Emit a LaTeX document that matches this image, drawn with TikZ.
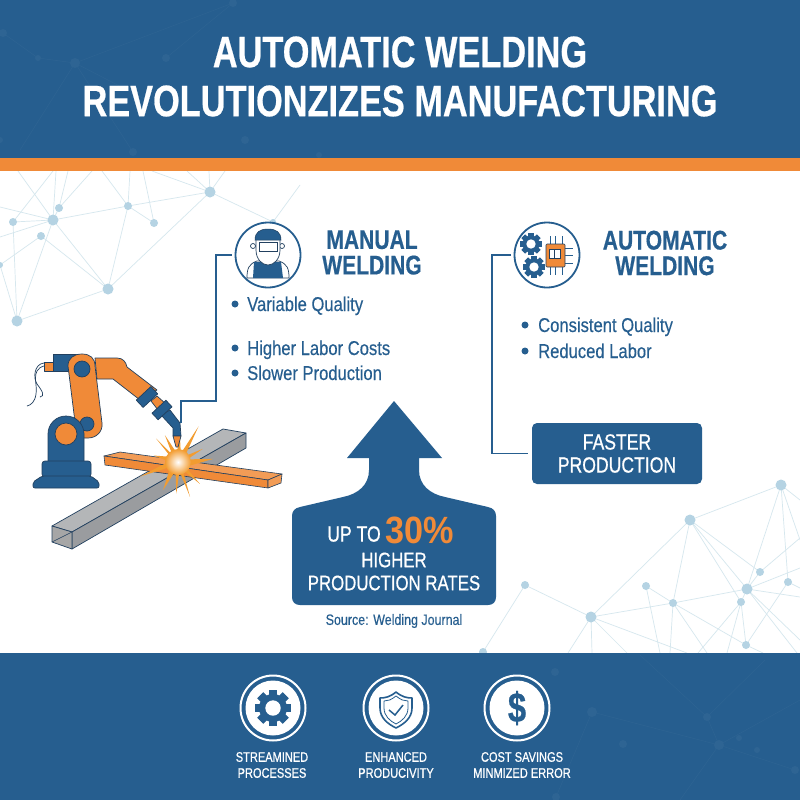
\documentclass[tikz,border=0pt]{standalone}
\usepackage{fontspec}
\setmainfont{Liberation Sans}[FakeStretch=0.78]
\newfontfamily\boldface{Liberation Sans Bold}[FakeStretch=0.78,FakeBold=0.5]
\newfontfamily\rateface{Liberation Sans Bold}[FakeStretch=0.90]
\newfontfamily\plainface{Liberation Sans}[FakeStretch=0.83,FakeBold=0.3]
\newfontfamily\whiteface{Liberation Sans}[FakeStretch=0.80,FakeBold=0.7]
\usetikzlibrary{calc,positioning}
\definecolor{deepblue}{HTML}{265E8F}
\definecolor{weldorange}{HTML}{F08A38}
\definecolor{netblue}{HTML}{B5D3E3}
\definecolor{netline}{HTML}{D6E7EE}
\definecolor{fadeblue}{HTML}{2E6493}
\definecolor{outline}{HTML}{22405F}
\definecolor{steel}{HTML}{B4B6B8}
\definecolor{steeldark}{HTML}{8F9194}
\tikzset{
	titletext/.style={text=white,font=\boldface\fontsize{44}{44}\selectfont,inner sep=0pt},
	headtext/.style={text=deepblue,align=center,font=\boldface\fontsize{27}{25.5}\selectfont,inner sep=0pt},
	itemtext/.style={text=deepblue,anchor=base west,font=\plainface\fontsize{20}{20}\selectfont,inner sep=0pt},
	itemdot/.style={circle,fill=deepblue,inner sep=0pt,minimum size=7pt},
	whitetext/.style={text=white,font=\whiteface\fontsize{22}{22}\selectfont,inner sep=0pt},
	arrowtext/.style={text=white,font=\whiteface\fontsize{21}{21}\selectfont,inner sep=0pt},
	foottext/.style={text=white,font=\whiteface\fontsize{13.8}{14}\selectfont,inner sep=0pt},
	iconring/.style={circle,draw=deepblue,line width=1.8pt,fill=white,minimum size=65pt,inner sep=0pt},
	footring/.style={circle,draw=white,line width=2pt,minimum size=65pt,inner sep=0pt},
	footdisc/.style={circle,fill=white,minimum size=55pt,inner sep=0pt},
	linkline/.style={draw=deepblue,line width=1.2pt},
	robotpart/.style={draw=outline,line width=0.7pt,line join=round},
}
% small gear: centre x, centre y, radius, colour, hole colour
\newcommand{\gearmark}[5]{
	\begin{scope}[shift={(#1,#2)}]
		\foreach \tooth in {0,45,...,315}
			\fill[#4,rotate=\tooth] ({-0.3*#3},{-1.28*#3}) rectangle ({0.3*#3},{1.28*#3});
		\fill[#4] (0,0) circle ({#3});
		\fill[#5] (0,0) circle ({0.55*#3});
	\end{scope}
}
\begin{document}
\begin{tikzpicture}[x=1pt,y=-1pt]
	\useasboundingbox (0,0) rectangle (800,800);
	\fill[white] (0,0) rectangle (800,800);

	% network behind the white part
	\foreach \xA/\yA/\xB/\yB in {
		53/220/108/289,53/220/128/206,53/220/17/321,53/220/59/208,41/236/108/289,128/206/108/289,
		210/192/108/289,210/192/128/206,128/206/154/223,210/192/273/222,108/289/17/321,13/222/17/321,
		41/236/0/265,0/265/17/321,53/220/18/171,53/220/56/171,59/208/92/171,59/208/68/171,
		128/206/102/171,128/206/130/171,154/223/143/171,210/192/152/171,210/192/187/171,210/192/209/171,
		210/192/225/171,273/222/300/185,13/222/53/171,53/220/0/207,53/220/0/237,13/222/53/220,
		781/485/690/520,781/485/747/589,781/485/788/582,781/485/800/540,781/485/800/500,690/520/760/572,
		690/520/747/589,690/520/741/602,690/520/673/603,690/520/591/617,591/617/673/603,673/603/747/589,
		760/572/747/589,760/572/800/538,747/589/800/568,747/589/800/597,747/589/741/602,741/602/746/645,
		788/582/746/645,591/617/525/585,525/585/483/652,646/586/673/603,646/586/660/653,673/603/670/653,
		673/603/707/653,673/603/746/645,591/617/568/653,591/617/592/653,591/617/627/653,591/617/687/653,
		741/602/698/653,741/602/727/653,747/589/797/653,747/589/800/640,746/645/763/653,788/582/800/588}
		\draw[netline,line width=0.7pt] (\xA,\yA) -- (\xB,\yB);
	\foreach \xN/\yN/\rN in {210/192/5.5,128/206/4,154/223/4,59/208/4,53/220/5.5,13/222/4,41/236/4,108/289/5.5,17/321/5.5,0/265/3,273/222/3,
		781/485/5.5,690/520/5.5,760/572/4,747/589/5.5,788/582/4,741/602/4,673/603/4,646/586/4,525/585/4,591/617/5.5,746/645/4,483/652/4}
		\fill[netblue] (\xN,\yN) circle (\rN);

	% bands
	\fill[deepblue] (0,0) rectangle (800,158);
	\fill[weldorange] (0,158) rectangle (800,171);
	\fill[deepblue] (0,653) rectangle (800,800);
	\foreach \xA/\yA/\xB/\yB in {75/63/38/58,75/63/166/110,75/63/20/150,38/58/3/33,75/63/233/3,75/63/133/152,166/58/233/3,
		592/712/719/745,707/717/719/745,707/717/640/655,719/745/795/770,719/745/800/700,719/745/680/800,707/717/765/660,592/712/556/797}
		\draw[fadeblue,line width=0.5pt] (\xA,\yA) -- (\xB,\yB);
	\foreach \xN/\yN/\rN in {233/3/4,3/33/4,38/58/3,75/63/5,166/58/4,245/140/4,133/152/4,319/155/3,0/140/3,
		555/672/4,592/712/5,707/717/4,623/744/4,719/745/5,757/750/3,556/797/4,795/770/4,739/738/3}
		\fill[fadeblue] (\xN,\yN) circle (\rN);

	\node[titletext] (titleA) at (400,52) {AUTOMATIC WELDING};
	\node[titletext] (titleB) at (400,101) {REVOLUTIONZIZES MANUFACTURING};

	% beam and bar
	\fill[steel,draw=outline,line width=0.7pt,line join=round] (52,526) -- (223,429) -- (246,433) -- (72,532) -- cycle;
	\fill[steeldark!70!steel,draw=outline,line width=0.7pt,line join=round] (72,532) -- (246,433) -- (246,448) -- (72,549) -- cycle;
	\fill[gray!70,draw=outline,line width=0.7pt,line join=round] (52,526) -- (72,532) -- (72,549) -- (52,542) -- cycle;
	\draw[outline,line width=0.5pt] (52,542) -- (72,532);
	\fill[weldorange!85!white,draw=outline,line width=0.6pt,line join=round] (104,456) -- (120,452) -- (282,474) -- (268,480) -- cycle;
	\fill[weldorange,draw=outline,line width=0.6pt,line join=round] (104,456) -- (268,480) -- (268,488) -- (105,465) -- cycle;
	\fill[weldorange!85!white,draw=outline,line width=0.6pt,line join=round] (268,480) -- (282,474) -- (281,483) -- (268,488) -- cycle;

	% spark
	\begin{scope}[shift={(178,462)},y=1pt]
		\fill[weldorange!85!yellow] (14:9)
		\foreach \ang/\len in {28/28,60/41,86/27,116/30,133/32,165/25,201/41,242/32,267/32,289/37,315/31,365/35}
		{
			-- (\ang:\len) -- (\ang+12:9)
		} -- cycle;
		\shade[inner color=white,outer color=weldorange!85!yellow] (0,0) circle (13);
	\end{scope}

	% robot
	\draw[outline,line width=0.7pt] (44,363) .. controls (34,364) and (33,378) .. (37,384) .. controls (43,392) and (45,396) .. (40,397);
	\draw[outline,line width=0.7pt] (44,366) .. controls (30,370) and (38,385) .. (36,394) .. controls (35,402) and (31,405) .. (27,406);
	\fill[weldorange,robotpart] (44,362) rectangle (54,371);
	\fill[deepblue,robotpart] (53,354) -- (82,354) -- (82,371) -- (53,371) -- cycle;
	\fill[weldorange,robotpart] (95,358) -- (117,358) .. controls (123,358) and (126,362) .. (127,367) -- (157,390) -- (140,400) -- (113,379) -- (97,379) -- cycle;
	\fill[weldorange,robotpart] (157,396) -- (151,401) -- (158,410) -- (166,404) -- cycle;
	\fill[deepblue,robotpart] (161,415) -- (170,410) -- (180,423) -- (181,436) -- (173,436) -- (173,428) -- cycle;
	\fill[weldorange,robotpart] (173,436) -- (181,436) -- (178,447) -- (176,447) -- cycle;
	\fill[deepblue,robotpart,rotate around={43:(147,397)}] (137,392) rectangle (157,402);
	\fill[deepblue,robotpart,rotate around={43:(162,410)}] (152.5,405.5) rectangle (171.5,414.5);
	\fill[weldorange,robotpart] (68,366) .. controls (68,358) and (74,354) .. (82,354) .. controls (90,354) and (95,358) .. (95,366) -- (102,423) .. controls (103,432) and (96,438) .. (88,438) -- (77,438) -- cycle;
	\fill[deepblue,robotpart] (82,369) circle (8);
	\fill[deepblue,robotpart] (87,424) circle (7);
	\fill[deepblue,robotpart] (48,462) -- (48,434) .. controls (48,424) and (56,416) .. (66,416) .. controls (76,416) and (84,424) .. (84,434) -- (84,462) -- cycle;
	\fill[weldorange,robotpart] (66,434) circle (11);
	\fill[deepblue,robotpart,rounded corners=3pt] (42,477) -- (42,461) -- (91,461) -- (91,477) -- cycle;
	\fill[deepblue,robotpart,rounded corners=2pt] (33,488) -- (33,482) -- (42,476) -- (91,476) -- (99,482) -- (99,488) -- cycle;
	\coordinate (torchtip) at (181,423);

	% manual column
	\node[iconring] (manualicon) at (268,255) {};
	\fill[white,draw=outline,line width=0.7pt] (253,246) circle (2.5) (282,246) circle (2.5);
	\fill[white,draw=outline,line width=0.7pt] (247,278) .. controls (247,268) and (249,264) .. (257,261) -- (279,261) .. controls (287,264) and (289,268) .. (289,278) -- cycle;
	\fill[deepblue] (254,262) -- (281,262) -- (283,278) -- (253,278) -- cycle;
	\fill[white,draw=outline,line width=0.7pt] (256,238) -- (280,238) -- (280,250) .. controls (280,259) and (274,265) .. (268,265) .. controls (262,265) and (256,259) .. (256,250) -- cycle;
	\fill[deepblue,draw=outline,line width=0.5pt] (255,240) .. controls (255,232) and (260,229) .. (268,229) .. controls (276,229) and (281,232) .. (281,240) -- cycle;
	\fill[white,draw=outline,line width=0.8pt] (259,242) rectangle (277,251);
	\node[headtext] (manualhead) at (372,252.5) {MANUAL\\WELDING};
	\foreach \nm/\yy/\tx in {itemA/311/Variable Quality,itemB/355/Higher Labor Costs,itemC/380/Slower Production}
	{
		\node[itemdot] (\nm dot) at (235,\yy-7) {};
		\node[itemtext] (\nm) at (247,\yy) {\tx};
	}
	\coordinate (manualbend) at (216,401);
	\draw[linkline,shorten <=3pt] (manualicon.west) -| (manualbend) -| (torchtip);

	% automatic column
	\node[iconring] (autoicon) at (547,255) {};
	\foreach \px in {550,555,562}
		\draw[deepblue,line width=0.7pt] (\px,236) -- (\px,244) (\px,267) -- (\px,275);
	\foreach \py in {248,255,263}
		\draw[deepblue,line width=0.7pt] (565,\py) -- (573,\py);
	\fill[weldorange,draw=outline,line width=0.6pt,rounded corners=1pt] (546,244) rectangle (565,267);
	\fill[white,draw=outline,line width=0.5pt] (549,249) rectangle (560,258);
	\draw[outline,line width=0.5pt] (554,249) -- (554,258);
	\gearmark{531}{244}{8.5}{deepblue}{white}
	\gearmark{534}{267}{8.5}{deepblue}{white}
	\node[headtext] (autohead) at (665,253) {AUTOMATIC\\WELDING};
	\foreach \nm/\yy/\tx in {itemD/332/Consistent Quality,itemE/358/Reduced Labor}
	{
		\node[itemdot] (\nm dot) at (525,\yy-7) {};
		\node[itemtext] (\nm) at (538,\yy) {\tx};
	}
	\node[fill=deepblue,rounded corners=5pt,minimum width=170pt,minimum height=61pt,inner sep=0pt] (fasterbox) at (617,453.5) {};
	\node[whitetext] (fasterA) at (617,442) {FASTER};
	\node[whitetext] (fasterB) at (617,465) {PRODUCTION};
	\coordinate (autobend) at (492,453.5);
	\draw[linkline,shorten <=3pt,shorten >=4pt] (autoicon.west) -| (autobend) -- (fasterbox.west);

	% big arrow
	\fill[deepblue] (394,401) -- (442,458) -- (419,458) -- (419,470) .. controls (419,485) and (430,494) .. (445,497) -- (488,507) .. controls (493,508) and (496,511) .. (496,516) -- (496,597) .. controls (496,602) and (493,605) .. (488,605) -- (300,605) .. controls (295,605) and (292,602) .. (292,597) -- (292,516) .. controls (292,511) and (295,508) .. (300,507) -- (343,497) .. controls (358,494) and (369,485) .. (369,470) -- (369,458) -- (347,458) -- cycle;
	\node[arrowtext,font=\whiteface\fontsize{22}{22}\selectfont] (upto) at (354,534) {UP TO};
	\node[text=weldorange,font=\rateface\fontsize{38}{38}\selectfont,inner sep=0pt] (rate) at (419.5,530) {30\%};
	\node[arrowtext] (higher) at (394,560) {HIGHER};
	\node[arrowtext] (rates) at (394,583) {PRODUCTION RATES};
	\node[text=deepblue,font=\plainface\fontsize{15}{15}\selectfont,inner sep=0pt] (source) at (394,621) {Source: Welding Journal};

	% footer
	\foreach \nm/\xx in {gear/273,shield/396,dollar/517}
	{
		\node[footring] (\nm ring) at (\xx,708) {};
		\node[footdisc] (\nm disc) at (\xx,708) {};
	}
	\gearmark{273}{708}{14}{deepblue}{white}
	\draw[deepblue,line width=1.6pt,line join=round] (396,692) .. controls (390,697) and (385,698) .. (380,698) -- (380,708) .. controls (380,718) and (388,724) .. (396,728) .. controls (404,724) and (412,718) .. (412,708) -- (412,698) .. controls (407,698) and (402,697) .. (396,692) -- cycle;
	\draw[deepblue,line width=0.8pt,line join=round] (396,696) .. controls (391,700) and (388,701) .. (384,701) -- (384,708) .. controls (384,716) and (390,721) .. (396,724) .. controls (402,721) and (408,716) .. (408,708) -- (408,701) .. controls (404,701) and (401,700) .. (396,696) -- cycle;
	\draw[deepblue,line width=1.5pt] (389,710) -- (395,715) -- (403,705);
	\node[text=deepblue,font=\boldface\fontsize{42}{42}\selectfont,inner sep=0pt] (dollarsign) at (dollardisc) {\$};
	\foreach \nm/\xx/\yy/\tx in {footA/272/757/STREAMINED,footB/272/773/PROCESSES,footC/396/757/ENHANCED,footD/396/773/PRODUCIVITY,footE/522/757/COST SAVINGS,footF/522/773/MINMIZED ERROR}
		\node[foottext] (\nm) at (\xx,\yy) {\tx};
\end{tikzpicture}
\end{document}
